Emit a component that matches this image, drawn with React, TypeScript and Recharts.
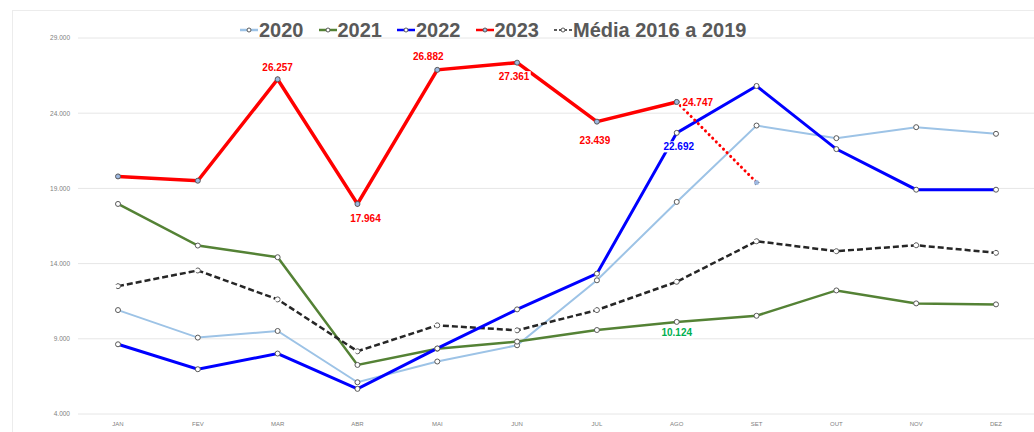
import React from 'react';
import { LineChart, Line, XAxis, YAxis, CartesianGrid, LabelList } from 'recharts';

const months = ['JAN', 'FEV', 'MAR', 'ABR', 'MAI', 'JUN', 'JUL', 'AGO', 'SET', 'OUT', 'NOV', 'DEZ'];
const s2020 = [10910, 9080, 9520, 6110, 7490, 8570, 12890, 18100, 23180, 22340, 23070, 22630];
const s2021 = [17966, 15200, 14424, 7263, 8340, 8814, 9584, 10124, 10530, 12216, 11354, 11288];
const s2022 = [8635, 6977, 8019, 5670, 8360, 10956, 13330, 22692, 25810, 21613, 18914, 18914];
const s2023 = [19796, 19511, 26257, 17964, 26882, 27361, 23439, 24747, null, null, null, null];
const s2023proj = [null, null, null, null, null, null, null, 24747, 19400, null, null, null];
const media = [12501, 13542, 11620, 8170, 9895, 9564, 10910, 12793, 15488, 14825, 15221, 14716];
const yTicks = [4000, 9000, 14000, 19000, 24000, 29000];

const seriesNames = ['2020', '2021', '2022', '2023', 'Média 2016 a 2019'];

const data = months.map((m, i) => ({
  month: m,
  s2020: s2020[i],
  s2021: s2021[i],
  s2022: s2022[i],
  s2023: s2023[i],
  s2023proj: s2023proj[i],
  media: media[i],
}));

// label placement (style only): index -> [dx, dy]
const place2023: Record<number, [number, number]> = {
  2: [0, -12],
  3: [8, 15],
  4: [-9, -13],
  5: [-3, 14],
  6: [-2, 19],
  7: [21, 1],
};
const place2022: Record<number, [number, number]> = { 7: [2, 14] };
const place2021: Record<number, [number, number]> = { 7: [0, 11] };

const fmt = (v: number) => v.toLocaleString('de-DE');

const makeLabel = (placement: Record<number, [number, number]>, color: string) => (props: any) => {
  const { x, y, value, index } = props;
  const p = placement[index];
  if (!p || value == null) return null;
  const txt = fmt(value);
  const w = txt.length * 5.2 + 2;
  const cx = x + p[0];
  const cy = y + p[1];
  return (
    <g>
      <rect x={cx - w / 2} y={cy - 5.5} width={w} height={11} fill="#fff" />
      <text
        x={cx}
        y={cy}
        textAnchor="middle"
        dominantBaseline="central"
        fontFamily="'Liberation Sans', Arial, sans-serif"
        fontWeight="bold"
        fontSize={10}
        fill={color}
      >
        {txt}
      </text>
    </g>
  );
};

const legendStyles = [
  { color: '#9DC3E6', dash: undefined, fill: '#fff' },
  { color: '#548235', dash: undefined, fill: '#fff' },
  { color: '#0000FF', dash: undefined, fill: '#fff' },
  { color: '#FF0000', dash: undefined, fill: '#9DB8E0' },
  { color: '#262626', dash: '3 2', fill: '#fff' },
];

const dotBase = { r: 2.5, stroke: '#595959', strokeWidth: 1, fill: '#fff' };

export default function App() {
  return (
    <div
      style={{
        position: 'absolute',
        left: 0,
        top: 0,
        width: 1034,
        height: 432,
        overflow: 'hidden',
        background: '#fff',
      }}
    >
      <div
        style={{
          position: 'absolute',
          left: 12,
          top: 10,
          width: 1100,
          height: 500,
          border: '1px solid #ececec',
        }}
      />
      <div style={{ position: 'absolute', left: 0, top: 0 }}>
        <LineChart
          width={1036}
          height={432}
          data={data}
          margin={{ top: 38, right: 0, bottom: 0, left: 0 }}
        >
          <CartesianGrid vertical={false} stroke="#e6e6e6" strokeWidth={1} />
          <XAxis
            dataKey="month"
            scale="point"
            padding={{ left: 40, right: 40 }}
            tickLine={false}
            axisLine={false}
            height={18}
            interval={0}
            tick={{ fontSize: 6, fill: '#808080', fontFamily: "'Liberation Sans', Arial, sans-serif" }}
          />
          <YAxis
            width={78}
            domain={[4000, 29000]}
            ticks={yTicks}
            tickLine={false}
            axisLine={false}
            tickFormatter={fmt}
            tick={{ fontSize: 6.5, fill: '#808080', fontFamily: "'Liberation Sans', Arial, sans-serif" }}
          />
          <Line
            dataKey="s2020"
            stroke="#9DC3E6"
            strokeWidth={2}
            dot={dotBase}
            isAnimationActive={false}
          />
          <Line
            dataKey="s2021"
            stroke="#548235"
            strokeWidth={2.5}
            dot={dotBase}
            isAnimationActive={false}
          >
            <LabelList dataKey="s2021" content={makeLabel(place2021, '#00B050')} />
          </Line>
          <Line
            dataKey="media"
            stroke="#262626"
            strokeWidth={2.5}
            strokeDasharray="6 3"
            dot={dotBase}
            isAnimationActive={false}
          />
          <Line
            dataKey="s2022"
            stroke="#0000FF"
            strokeWidth={3}
            dot={dotBase}
            isAnimationActive={false}
          >
            <LabelList dataKey="s2022" content={makeLabel(place2022, '#0000FF')} />
          </Line>
          <Line
            dataKey="s2023proj"
            stroke="#FF0000"
            strokeWidth={3}
            strokeDasharray="0.1 5"
            strokeLinecap="round"
            dot={{ ...dotBase, fill: '#9DB8E0' }}
            isAnimationActive={false}
          />
          <Line
            dataKey="s2023"
            stroke="#FF0000"
            strokeWidth={3.5}
            dot={{ ...dotBase, fill: '#9DB8E0' }}
            isAnimationActive={false}
          >
            <LabelList dataKey="s2023" content={makeLabel(place2023, '#FF0000')} />
          </Line>
        </LineChart>
      </div>
      <div
        style={{
          position: 'absolute',
          left: 240,
          top: 19,
          display: 'flex',
          alignItems: 'center',
          gap: 15,
          fontFamily: "'Liberation Sans', Arial, sans-serif",
          fontWeight: 'bold',
          fontSize: 20,
          color: '#595959',
          lineHeight: '22px',
          whiteSpace: 'nowrap',
        }}
      >
        {seriesNames.map((name, i) => (
          <div key={name} style={{ display: 'flex', alignItems: 'center' }}>
            <svg width={18} height={10} style={{ marginRight: 1 }}>
              <line
                x1={0}
                y1={5}
                x2={18}
                y2={5}
                stroke={legendStyles[i].color}
                strokeWidth={i === 4 ? 1.5 : 2.5}
                strokeDasharray={legendStyles[i].dash}
              />
              <circle cx={9} cy={5} r={2} fill={legendStyles[i].fill} stroke="#595959" strokeWidth={1} />
            </svg>
            <span>{name}</span>
          </div>
        ))}
      </div>
    </div>
  );
}
